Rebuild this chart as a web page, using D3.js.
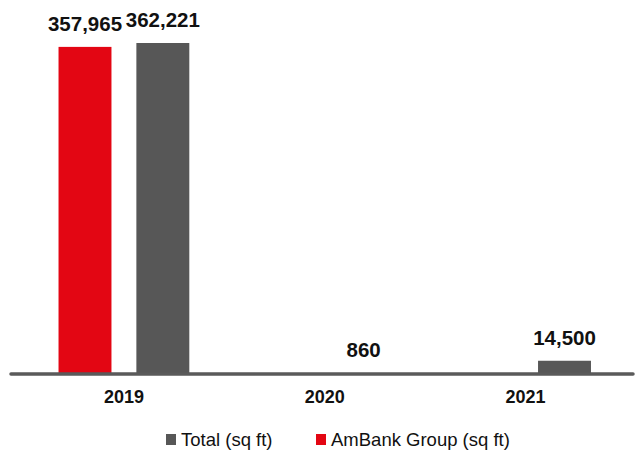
<!DOCTYPE html>
<html>
<head>
<meta charset="utf-8">
<script src="https://cdn.jsdelivr.net/npm/d3@7"></script>
<style>
  html, body { margin: 0; padding: 0; background: #ffffff; }
  svg { display: block; font-family: "Liberation Sans", Arial, Helvetica, sans-serif; }
</style>
</head>
<body>
<svg id="chart" width="638" height="452"></svg>
<script>
// Floor space by year
const years = ["2019", "2020", "2021"];
const totalSqFt = [362221, 860, 14500];
const ambankSqFt = [357965, null, null];

const seriesNames = ["AmBank Group (sq ft)", "Total (sq ft)"];
const legendOrder = ["Total (sq ft)", "AmBank Group (sq ft)"];
const seriesValues = {
  "AmBank Group (sq ft)": ambankSqFt,
  "Total (sq ft)": totalSqFt
};

const colour = d3.scaleOrdinal()
  .domain(seriesNames)
  .range(["#e30613", "#575757"]);

const svg = d3.select("#chart");
const baseY = 374;

const x0 = d3.scaleBand().domain(years).range([23.5, 626]).padding(0);
const x1 = d3.scaleBand().domain(seriesNames).range([0, x0.bandwidth()])
  .paddingInner(0.32).paddingOuter(0.45);
const y = d3.scaleLinear().domain([0, d3.max(totalSqFt)]).range([baseY, 43]);

const fmt = d3.format(",");

// flatten into bar records, skipping missing values
const bars = [];
years.forEach((yr, i) => {
  seriesNames.forEach(s => {
    const v = seriesValues[s][i];
    if (v != null) bars.push({ year: yr, series: s, value: v });
  });
});

const g = svg.append("g");

g.selectAll("rect.bar")
  .data(bars)
  .join("rect")
  .attr("class", "bar")
  .attr("x", d => x0(d.year) + x1(d.series))
  .attr("y", d => y(d.value))
  .attr("width", x1.bandwidth())
  .attr("height", d => baseY - y(d.value))
  .attr("fill", d => colour(d.series));

// value labels
g.selectAll("text.val")
  .data(bars)
  .join("text")
  .attr("class", "val")
  .attr("x", d => x0(d.year) + x1(d.series) + x1.bandwidth() / 2)
  .attr("y", d => y(d.value) - 16)
  .attr("text-anchor", "middle")
  .attr("font-size", "20.5px")
  .attr("font-weight", "bold")
  .attr("fill", "#111")
  .text(d => fmt(d.value));

// baseline axis
const xAxis = d3.axisBottom(x0).tickSize(0).tickPadding(0);
const axisG = svg.append("g").attr("transform", `translate(0,${baseY})`).call(xAxis);
axisG.select(".domain").remove();
axisG.append("line")
  .attr("x1", 11).attr("x2", 633)
  .attr("y1", 0).attr("y2", 0)
  .attr("stroke", "#5a5a5a")
  .attr("stroke-width", 3.5)
  .attr("stroke-linecap", "round");
axisG.selectAll(".tick text")
  .attr("y", 29)
  .attr("dy", 0)
  .attr("font-size", "18px")
  .attr("font-weight", "bold")
  .attr("font-family", "Liberation Sans, Arial, Helvetica, sans-serif")
  .attr("fill", "#111");

// legend
const legendX = { "Total (sq ft)": 166, "AmBank Group (sq ft)": 316 };
const legend = svg.append("g")
  .selectAll("g")
  .data(legendOrder)
  .join("g")
  .attr("transform", d => `translate(${legendX[d]},434)`);
legend.append("rect")
  .attr("width", 10).attr("height", 11)
  .attr("fill", d => colour(d));
legend.append("text")
  .attr("x", 15).attr("y", 12)
  .attr("font-size", "18.5px")
  .attr("fill", "#111")
  .text(d => d);
</script>
</body>
</html>
